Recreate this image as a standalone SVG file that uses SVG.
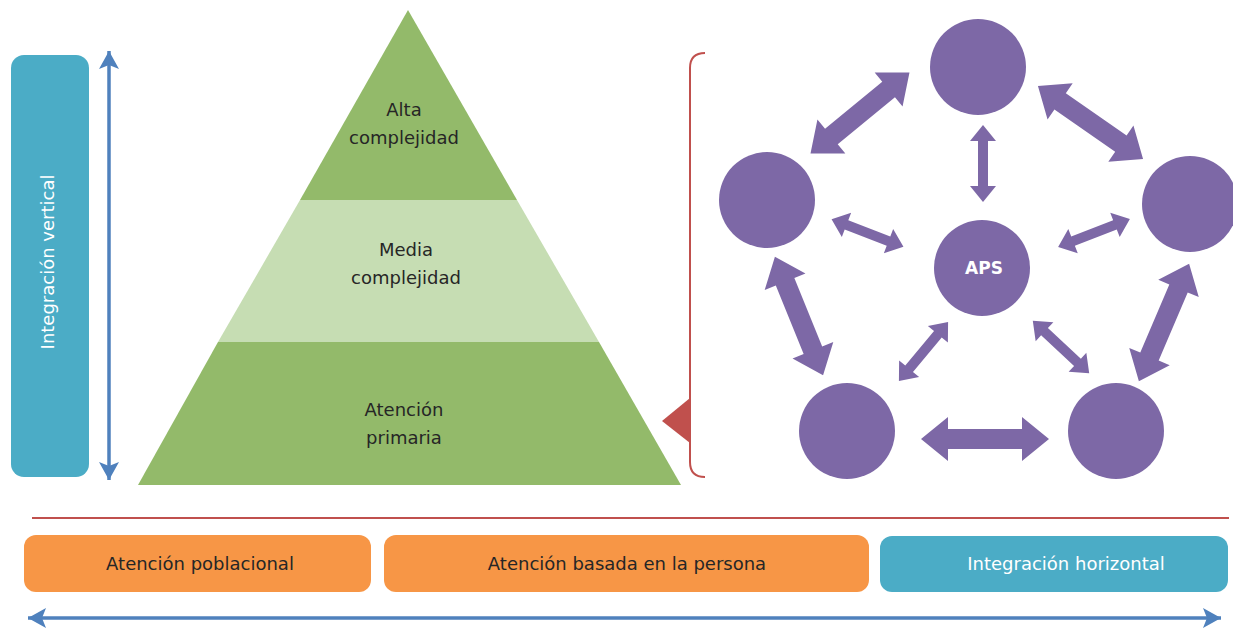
<svg xmlns="http://www.w3.org/2000/svg" width="1233" height="628" viewBox="0 0 1233 628">
<style>
.lbl{font-family:"DejaVu Sans","Verdana",sans-serif;font-size:18px;fill:#262626;text-anchor:middle}
.wlbl{font-family:"DejaVu Sans","Verdana",sans-serif;font-size:18px;fill:#ffffff;text-anchor:middle}
.node{fill:#7D68A6}
.conn{fill:#7D68A6}
.blue{stroke:#4F81BD;stroke-width:3.5;fill:none}
.red{stroke:#C0504D;stroke-width:2;fill:none}
</style>
<defs>
<marker id="bh" markerUnits="userSpaceOnUse" markerWidth="24" markerHeight="24" viewBox="-20 -12 22 24" refX="0" refY="0" orient="auto-start-reverse">
<path d="M0,0 L-18,-10 L-14,0 L-18,10 Z" fill="#4F81BD"/>
</marker>
<path id="bigArrow" d="M-64,0 L-37,-22 L-37,-10 L37,-10 L37,-22 L64,0 L37,22 L37,10 L-37,10 L-37,22 Z"/>
<path id="smallArrow" d="M-38.5,0 L-22.5,-13 L-22.5,-5 L22.5,-5 L22.5,-13 L38.5,0 L22.5,13 L22.5,5 L-22.5,5 L-22.5,13 Z"/>
</defs>
<rect width="1233" height="628" fill="#ffffff"/>

<g id="vertical-integration">
<rect x="11" y="55" width="78" height="422" rx="13" fill="#4BACC6"/>
<text class="wlbl" transform="translate(54,262) rotate(-90)">Integración vertical</text>
<line class="blue" x1="109" y1="51" x2="109" y2="480" marker-start="url(#bh)" marker-end="url(#bh)"/>
</g>

<g id="pyramid">
<polygon points="408,10 517,200 300,200" fill="#93BA6A"/>
<polygon points="300,200 517,200 599,342 218,342" fill="#C6DDB3"/>
<polygon points="218,342 599,342 681,485 138,485" fill="#93BA6A"/>
<text class="lbl" x="404" y="116">Alta</text>
<text class="lbl" x="404" y="144">complejidad</text>
<text class="lbl" x="406" y="256">Media</text>
<text class="lbl" x="406" y="284">complejidad</text>
<text class="lbl" x="404" y="416">Atención</text>
<text class="lbl" x="404" y="444">primaria</text>
</g>

<g id="bracket">
<path class="red" d="M705,53 Q690,53 690,68 L690,462 Q690,477 705,477"/>
<polygon points="690,398 662,421 690,443" fill="#C0504D"/>
</g>

<g id="connectors">
<use href="#bigArrow" class="conn" transform="translate(860,113) rotate(-39.35)"/>
<use href="#bigArrow" class="conn" transform="translate(1090.5,122.5) rotate(34.8)"/>
<use href="#bigArrow" class="conn" transform="translate(799,316) rotate(67.9)"/>
<use href="#bigArrow" class="conn" transform="translate(1164,322.5) rotate(113.1)"/>
<use href="#bigArrow" class="conn" transform="translate(985,439)"/>
<use href="#smallArrow" class="conn" transform="translate(983,163.5) rotate(90)"/>
<use href="#smallArrow" class="conn" transform="translate(867.5,233) rotate(21)"/>
<use href="#smallArrow" class="conn" transform="translate(1094,233) rotate(158.7)"/>
<use href="#smallArrow" class="conn" transform="translate(923.5,351.5) rotate(129.7)"/>
<use href="#smallArrow" class="conn" transform="translate(1061,347) rotate(42.9)"/>
</g>

<g id="node-top"><circle class="node" cx="978" cy="67" r="48"/></g>
<g id="node-left"><circle class="node" cx="767" cy="200" r="48"/></g>
<g id="node-right"><circle class="node" cx="1190" cy="204" r="48"/></g>
<g id="node-aps"><circle class="node" cx="982" cy="268" r="48"/>
<text x="984" y="274" font-family="DejaVu Sans, Verdana, sans-serif" font-size="17" font-weight="bold" fill="#ffffff" text-anchor="middle">APS</text></g>
<g id="node-bottom-left"><circle class="node" cx="847" cy="431" r="48"/></g>
<g id="node-bottom-right"><circle class="node" cx="1116" cy="431" r="48"/></g>

<g id="horizontal">
<line class="red" x1="32" y1="518" x2="1229" y2="518"/>
<g id="box-poblacional">
<rect x="24" y="535" width="347" height="57" rx="12" fill="#F79646"/>
<text class="lbl" x="200" y="570">Atención poblacional</text>
</g>
<g id="box-persona">
<rect x="384" y="535" width="485" height="57" rx="12" fill="#F79646"/>
<text class="lbl" x="627" y="570">Atención basada en la persona</text>
</g>
<g id="box-horizontal">
<rect x="880" y="536" width="348" height="56" rx="12" fill="#4BACC6"/>
<text class="wlbl" x="1066" y="570">Integración horizontal</text>
</g>
<line class="blue" x1="28" y1="618" x2="1221" y2="618" marker-start="url(#bh)" marker-end="url(#bh)"/>
</g>
</svg>
